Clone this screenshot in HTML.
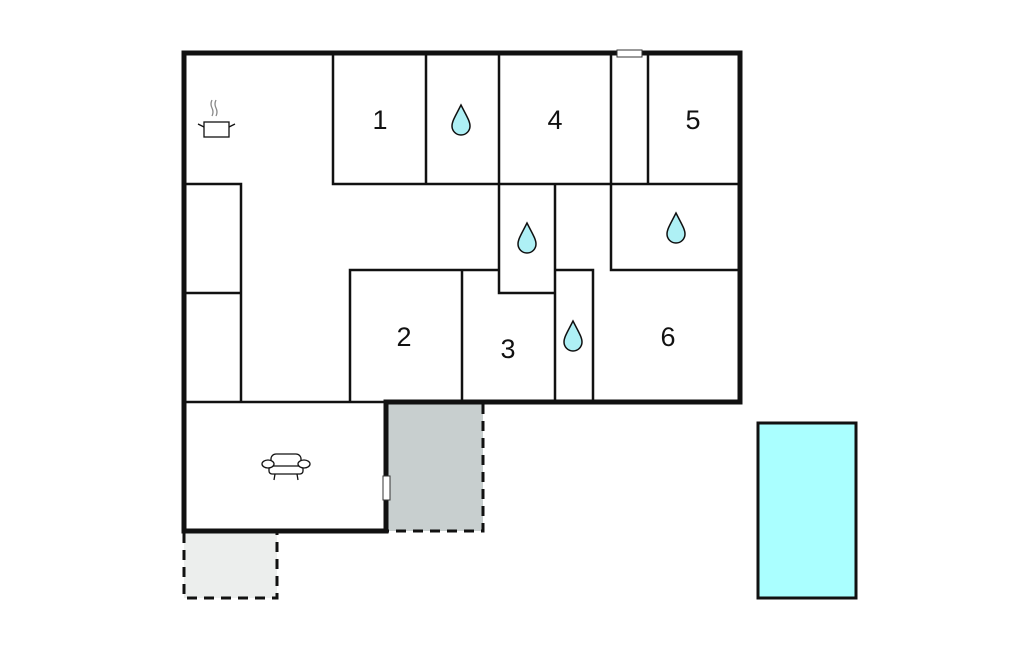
<!DOCTYPE html>
<html><head><style>
html,body{margin:0;padding:0;background:#fff;}
svg{display:block;}
text{font-family:"Liberation Sans",sans-serif;font-size:27px;fill:#111;text-anchor:middle;}
</style></head><body>
<svg width="1024" height="652" viewBox="0 0 1024 652" xmlns="http://www.w3.org/2000/svg">
<rect x="0" y="0" width="1024" height="652" fill="#fff"/>
<!-- outdoor areas -->
<rect x="388" y="404" width="95" height="127" fill="#c8cfcf"/>
<path d="M483 404 V531 H388" fill="none" stroke="#111" stroke-width="3" stroke-dasharray="10,7"/>
<rect x="184" y="533" width="93" height="65" fill="#eceeed"/>
<path d="M184 533 V598 H277 V533" fill="none" stroke="#111" stroke-width="3" stroke-dasharray="10,7"/>
<!-- pool -->
<rect x="758" y="423" width="98" height="175" fill="#aaffff" stroke="#111" stroke-width="3"/>
<!-- interior thin walls -->
<g stroke="#111" stroke-width="2.5" fill="none">
<path d="M333 53 V184 H740"/>
<path d="M426 53 V184"/>
<path d="M499 53 V184"/>
<path d="M611 53 V270 H740"/>
<path d="M648 53 V184"/>
<path d="M499 184 V293 H555"/>
<path d="M555 184 V402"/>
<path d="M350 402 V270 H499"/>
<path d="M462 270 V402"/>
<path d="M555 270 H593 V402"/>
<path d="M184 184 H241 V402"/>
<path d="M184 293 H241"/>
<path d="M184 402 H386"/>
</g>
<!-- outer walls -->
<path d="M740 402 H386 V531 H184 V53 H740 Z" fill="none" stroke="#111" stroke-width="5"/>
<!-- window & door -->
<rect x="617" y="50" width="25" height="7" fill="#fff" stroke="#333" stroke-width="1"/>
<rect x="383" y="476" width="7" height="24" fill="#fff" stroke="#333" stroke-width="1"/>
<!-- labels -->
<text x="380" y="129">1</text>
<text x="555" y="129">4</text>
<text x="693" y="129">5</text>
<text x="404" y="346">2</text>
<text x="508" y="358">3</text>
<text x="668" y="346">6</text>
<!-- drops -->
<g fill="#aef0f5" stroke="#111" stroke-width="1.5">
<path d="M461 105 C456 115 452 121 452 126 A9 9 0 0 0 470 126 C470 121 466 115 461 105Z"/>
<path d="M527 223 C522 233 518 239 518 244 A9 9 0 0 0 536 244 C536 239 532 233 527 223Z"/>
<path d="M676 213 C671 223 667 229 667 234 A9 9 0 0 0 685 234 C685 229 681 223 676 213Z"/>
<path d="M573 321 C568 331 564 337 564 342 A9 9 0 0 0 582 342 C582 337 578 331 573 321Z"/>
</g>
<!-- pot icon -->
<g stroke="#111" stroke-width="1.3" fill="none">
<rect x="204" y="122" width="25" height="15" fill="#fff"/>
<path d="M198 124 L204 127 M235 124 L229 127"/>
<path d="M212 100 q-2 4 0 8 q2 4 0 8 M216 100 q-2 4 0 8 q2 4 0 8" stroke="#888"/>
</g>
<!-- armchair icon -->
<g stroke="#111" stroke-width="1.3" fill="#fff">
<rect x="271" y="454" width="30" height="13" rx="5"/>
<rect x="269" y="466" width="34" height="8" rx="3"/>
<ellipse cx="268" cy="464" rx="6" ry="4"/>
<ellipse cx="304" cy="464" rx="6" ry="4"/>
<path d="M275 474 L274 480 M297 474 L298 480" fill="none"/>
</g>
</svg>
</body></html>
